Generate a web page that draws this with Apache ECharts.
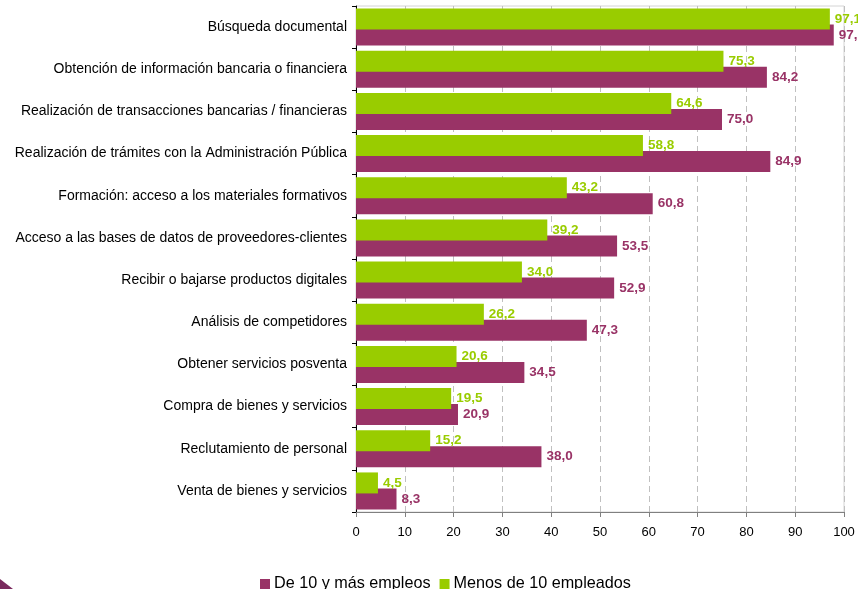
<!DOCTYPE html>
<html>
<head>
<meta charset="utf-8">
<script src="https://cdn.jsdelivr.net/npm/echarts@6/dist/echarts.min.js"></script>
<style>
  html, body { margin: 0; padding: 0; background: #fff; }
  #chart { width: 858px; height: 589px; }
</style>
</head>
<body>
<div id="chart"></div>
<script>
const categories = [
  "Búsqueda documental",
  "Obtención de información bancaria o financiera",
  "Realización de transacciones bancarias / financieras",
  "Realización de trámites con la Administración Pública",
  "Formación: acceso a los materiales formativos",
  "Acceso a las bases de datos de proveedores-clientes",
  "Recibir o bajarse productos digitales",
  "Análisis de competidores",
  "Obtener servicios posventa",
  "Compra de bienes y servicios",
  "Reclutamiento de personal",
  "Venta de bienes y servicios",
];
const menos10 = [97.1, 75.3, 64.6, 58.8, 43.2, 39.2, 34.0, 26.2, 20.6, 19.5, 15.2, 4.5];
const mas10 = [97.9, 84.2, 75.0, 84.9, 60.8, 53.5, 52.9, 47.3, 34.5, 20.9, 38.0, 8.3];
const xTicks = [0, 10, 20, 30, 40, 50, 60, 70, 80, 90, 100];

const font = "'Liberation Sans', Arial, sans-serif";
const fmt = (p) => p.value.toFixed(1).replace(".", ",");

const chart = echarts.init(document.getElementById("chart"));
chart.setOption({
  animation: false,
  textStyle: { fontFamily: font },
  grid: {
    left: 356,
    right: 14,
    top: 6,
    bottom: 77,
    show: true,
    borderColor: "#d4d4d4",
    borderWidth: 1,
  },
  legend: {
    left: 255,
    top: 571,
    icon: "rect",
    itemWidth: 10,
    itemHeight: 10,
    itemGap: 9,
    data: ["De 10 y más empleos", "Menos de 10 empleados"],
    textStyle: { fontFamily: font, fontSize: 16.2, color: "#000", padding: [0, 0, 0, -1] },
  },
  xAxis: {
    type: "value",
    min: xTicks[0],
    max: xTicks[xTicks.length - 1],
    interval: 10,
    axisLine: { show: true, lineStyle: { color: "#808080", width: 1 } },
    axisTick: { show: true, length: 5, lineStyle: { color: "#808080" } },
    axisLabel: { color: "#000", fontSize: 13, margin: 14, fontFamily: font },
    splitLine: { show: true, lineStyle: { color: "#c0c0c0", type: [6, 4] } },
  },
  yAxis: {
    type: "category",
    inverse: true,
    data: categories,
    axisLine: { show: true, lineStyle: { color: "#000", width: 1 } },
    axisTick: { show: true, length: 4, lineStyle: { color: "#000" } },
    axisLabel: { color: "#000", fontSize: 14, margin: 9, fontFamily: font },
  },
  series: [
    {
      name: "Menos de 10 empleados",
      type: "bar",
      data: menos10,
      barWidth: 21,
      barGap: "-24%",
      z: 3,
      itemStyle: { color: "#99CC00" },
      label: {
        show: true,
        position: "right",
        distance: 5,
        formatter: fmt,
        color: "#99CC00",
        fontWeight: "bold",
        fontSize: 13.5,
        fontFamily: font,
      },
    },
    {
      name: "De 10 y más empleos",
      type: "bar",
      data: mas10,
      barWidth: 21,
      barGap: "-24%",
      itemStyle: { color: "#993366" },
      label: {
        show: true,
        position: "right",
        distance: 5,
        formatter: fmt,
        color: "#993366",
        fontWeight: "bold",
        fontSize: 13.5,
        fontFamily: font,
      },
    },
  ],
  graphic: [
    {
      type: "polygon",
      shape: { points: [[0, 579], [13, 589], [0, 589]] },
      style: { fill: "#7a2a5e" },
    },
  ],
});
</script>
</body>
</html>
